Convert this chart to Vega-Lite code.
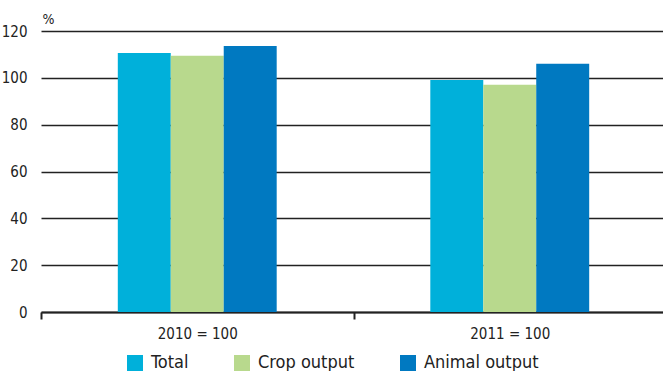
{
  "$schema": "https://vega.github.io/schema/vega-lite/v6.json",
  "autosize": "none",
  "width": 625,
  "height": 281,
  "padding": {"left": 41, "top": 31, "right": 0, "bottom": 59},
  "background": "white",
  "config": {
    "font": "'DejaVu Sans Condensed', 'Liberation Sans Narrow', 'Open Sans', sans-serif",
    "view": {"stroke": null}
  },
  "data": {
    "values": [
      {"base": "2010 = 100", "series": "Total", "value": 110.6},
      {"base": "2010 = 100", "series": "Crop output", "value": 109.4},
      {"base": "2010 = 100", "series": "Animal output", "value": 113.6},
      {"base": "2011 = 100", "series": "Total", "value": 99.1},
      {"base": "2011 = 100", "series": "Crop output", "value": 97.0},
      {"base": "2011 = 100", "series": "Animal output", "value": 106.0}
    ]
  },
  "mark": {"type": "bar"},
  "encoding": {
    "x": {
      "field": "base",
      "type": "nominal",
      "scale": {"paddingInner": 0, "paddingOuter": 0},
      "axis": {
        "title": null,
        "labelAngle": 0,
        "labelFontSize": 15,
        "labelColor": "#222",
        "labelPadding": 7,
        "domainColor": "#222",
        "domainWidth": 2,
        "tickColor": "#222",
        "tickWidth": 2,
        "tickSize": 7,
        "tickBand": "extent"
      }
    },
    "xOffset": {
      "field": "series",
      "type": "nominal",
      "scale": {
        "domain": ["pad-left", "Total", "Crop output", "Animal output", "pad-right"],
        "paddingInner": 0,
        "paddingOuter": 0.45
      }
    },
    "y": {
      "field": "value",
      "type": "quantitative",
      "scale": {"domain": [0, 120]},
      "axis": {
        "values": [0, 20, 40, 60, 80, 100, 120],
        "title": "%",
        "titleAngle": 0,
        "titleFontSize": 14,
        "titleFontWeight": "normal",
        "titleColor": "#222",
        "titleX": 1,
        "titleY": -8,
        "titleAlign": "left",
        "titleBaseline": "alphabetic",
        "labelFontSize": 15,
        "labelColor": "#222",
        "labelPadding": 14,
        "domain": false,
        "ticks": false,
        "grid": true,
        "gridColor": "#222",
        "gridWidth": 1.3
      }
    },
    "color": {
      "field": "series",
      "type": "nominal",
      "sort": ["Total", "Crop output", "Animal output"],
      "scale": {
        "domain": ["Total", "Crop output", "Animal output"],
        "range": ["#00B0DA", "#B8D98D", "#0079C1"]
      },
      "legend": {
        "title": null,
        "orient": "none",
        "direction": "horizontal",
        "legendX": 85,
        "legendY": 323,
        "padding": 0,
        "symbolType": "square",
        "symbolSize": 256,
        "symbolStrokeWidth": 0,
        "labelFontSize": 18,
        "labelColor": "#222",
        "labelOffset": 7,
        "columnPadding": 44
      }
    }
  }
}
